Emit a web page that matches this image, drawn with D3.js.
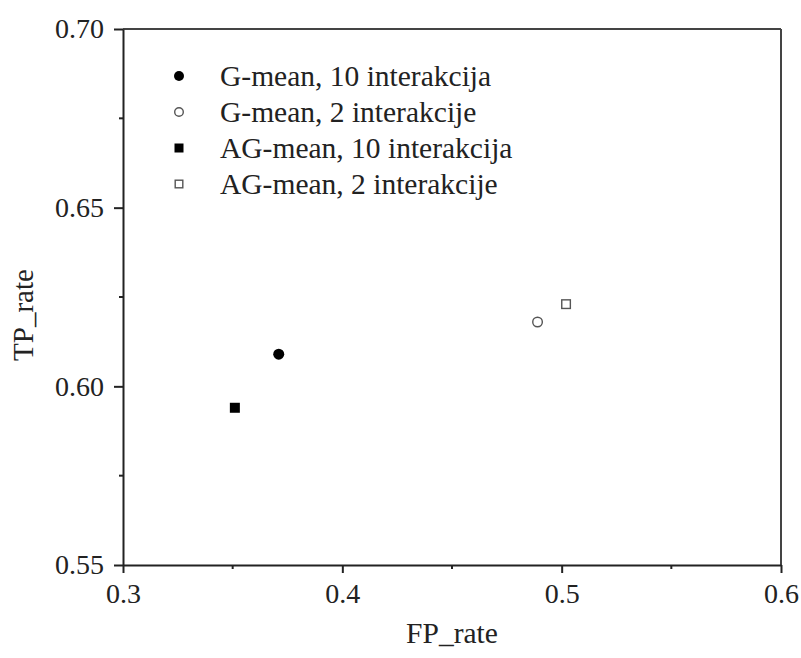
<!DOCTYPE html>
<html>
<head>
<meta charset="utf-8">
<script src="https://cdn.jsdelivr.net/npm/d3@7"></script>
<style>
  html, body { margin: 0; padding: 0; background: #fff; }
  svg { display: block; }
  text { font-family: "Liberation Serif", "Times New Roman", serif; fill: #222; }
</style>
</head>
<body>
<svg id="chart" width="801" height="658"></svg>
<script>
// Series: FP rate vs TP rate for each configuration
const seriesNames = ["G-mean, 10 interakcija", "G-mean, 2 interakcije", "AG-mean, 10 interakcija", "AG-mean, 2 interakcije"];
const seriesShapes = ["circle", "circle", "square", "square"];
const seriesFilled = [true, false, true, false];
const fpRate = [0.371, 0.489, 0.351, 0.502];
const tpRate = [0.609, 0.618, 0.594, 0.623];

const xTicks = [0.3, 0.4, 0.5, 0.6];
const xMinorTicks = [0.35, 0.45, 0.55];
const yTicks = [0.55, 0.60, 0.65, 0.70];
const yMinorTicks = [0.575, 0.625, 0.675];
const xLabel = "FP_rate";
const yLabel = "TP_rate";

const svg = d3.select("#chart");
const margin = { left: 123, top: 29, right: 20, bottom: 93 };
const W = 801, H = 658;
const x = d3.scaleLinear().domain([0.3, 0.6]).range([margin.left, W - margin.right]);
const y = d3.scaleLinear().domain([0.55, 0.70]).range([H - margin.bottom, margin.top]);

const axisColor = "#222";

// frame top and right
svg.append("line").attr("x1", x(0.3)).attr("x2", x(0.6)).attr("y1", y(0.70)).attr("y2", y(0.70))
  .attr("stroke", "#444").attr("stroke-width", 2);
svg.append("line").attr("x1", x(0.6)).attr("x2", x(0.6)).attr("y1", y(0.70)).attr("y2", y(0.55))
  .attr("stroke", "#444").attr("stroke-width", 2);

// bottom axis
const xAxis = svg.append("g").attr("transform", `translate(0,${y(0.55)})`)
  .call(d3.axisBottom(x).tickValues(xTicks).tickFormat(d3.format(".1f")).tickSize(8).tickPadding(10).tickSizeOuter(0));
xAxis.select(".domain").attr("stroke", axisColor).attr("stroke-width", 2);
xAxis.selectAll(".tick line").attr("stroke", axisColor).attr("stroke-width", 2);
xAxis.selectAll("text").attr("font-size", 28).attr("font-family", "Liberation Serif").attr("fill", "#222");
xAxis.selectAll(".minor").data(xMinorTicks).enter().append("line")
  .attr("x1", d => x(d)).attr("x2", d => x(d)).attr("y1", 0).attr("y2", 4)
  .attr("stroke", axisColor).attr("stroke-width", 2);

// left axis
const yAxis = svg.append("g").attr("transform", `translate(${x(0.3)},0)`)
  .call(d3.axisLeft(y).tickValues(yTicks).tickFormat(d3.format(".2f")).tickSize(9).tickPadding(10).tickSizeOuter(0));
yAxis.select(".domain").attr("stroke", axisColor).attr("stroke-width", 2);
yAxis.selectAll(".tick line").attr("stroke", axisColor).attr("stroke-width", 2);
yAxis.selectAll("text").attr("font-size", 28).attr("font-family", "Liberation Serif").attr("fill", "#222");
yAxis.selectAll(".minor").data(yMinorTicks).enter().append("line")
  .attr("y1", d => y(d)).attr("y2", d => y(d)).attr("x1", 0).attr("x2", -4)
  .attr("stroke", axisColor).attr("stroke-width", 2);

// axis titles
svg.append("text").attr("x", (x(0.3) + x(0.6)) / 2).attr("y", 643)
  .attr("text-anchor", "middle").attr("font-size", 29.5).text(xLabel);
svg.append("text").attr("transform", `translate(33,${(y(0.55) + y(0.70)) / 2 + 18}) rotate(-90)`)
  .attr("text-anchor", "middle").attr("font-size", 29).text(yLabel);

// marker drawing helper
function drawMarker(g, shape, filled, cx, cy, size) {
  if (shape === "circle") {
    g.append("circle").attr("cx", cx).attr("cy", cy).attr("r", filled ? size / 2 : size / 2 - 0.7)
      .attr("fill", filled ? "#000" : "#fff")
      .attr("stroke", filled ? "none" : "#555").attr("stroke-width", 1.4);
  } else {
    const s = filled ? size : size - 1.4;
    g.append("rect").attr("x", cx - s / 2).attr("y", cy - s / 2).attr("width", s).attr("height", s)
      .attr("fill", filled ? "#000" : "#fff")
      .attr("stroke", filled ? "none" : "#555").attr("stroke-width", 1.4);
  }
}

// data points
const pts = svg.append("g");
fpRate.forEach((fp, i) => {
  drawMarker(pts, seriesShapes[i], seriesFilled[i], x(fp), y(tpRate[i]), seriesShapes[i] === "circle" ? 11 : 10);
});

// legend
const legend = svg.append("g");
seriesNames.forEach((name, i) => {
  const ly = 76 + i * 36;
  drawMarker(legend, seriesShapes[i], seriesFilled[i], 179, ly, seriesShapes[i] === "circle" ? 10 : 9);
  legend.append("text").attr("x", 220).attr("y", ly + 9.5).attr("font-size", 29.5).text(name);
});
</script>
</body>
</html>
